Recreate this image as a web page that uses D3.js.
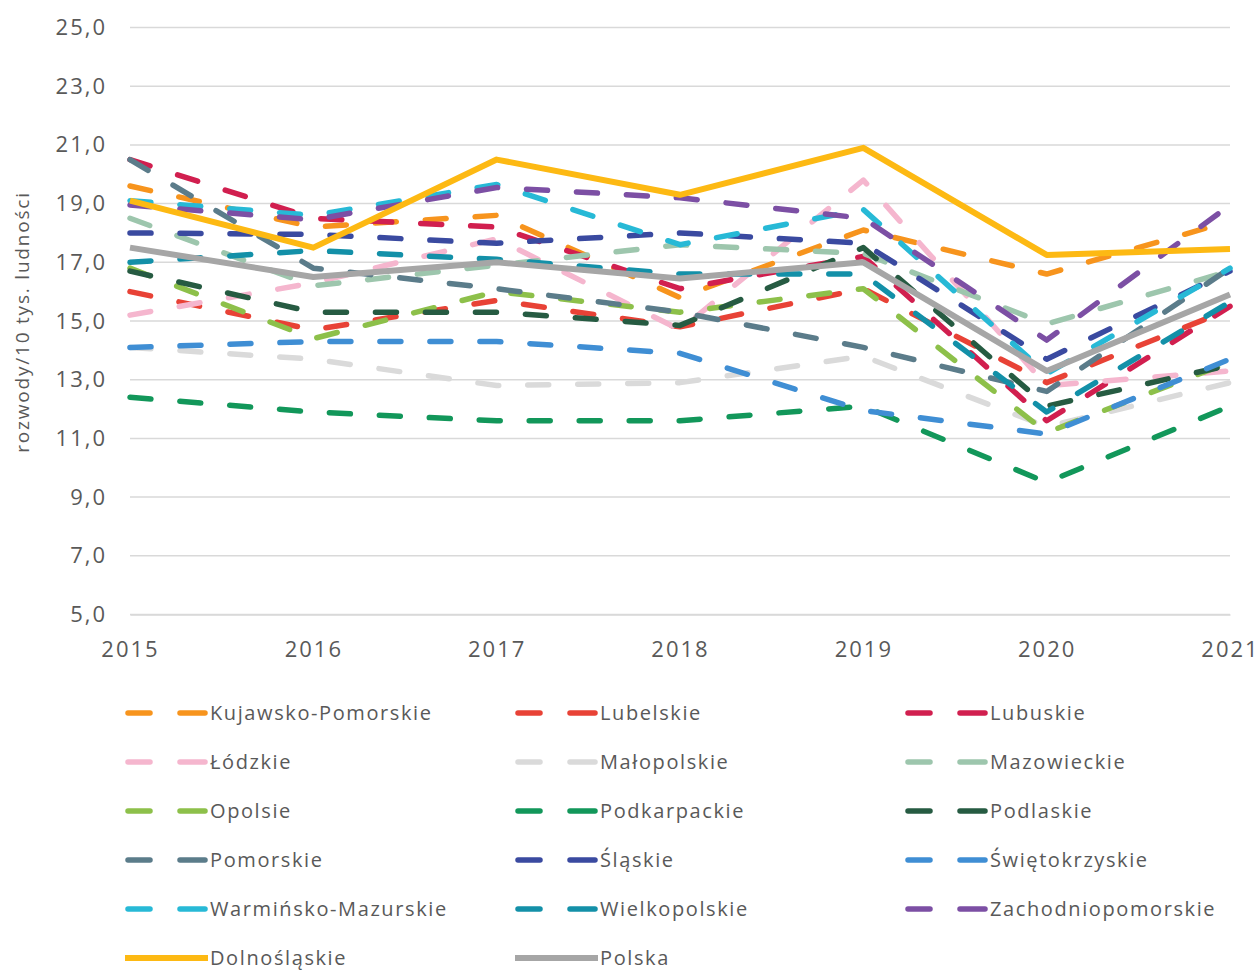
<!DOCTYPE html>
<html>
<head>
<meta charset="utf-8">
<script src="https://cdn.jsdelivr.net/npm/d3@7"></script>
<style>
	body { margin: 0; background: #fff; }
	svg { display: block; }
</style>
</head>
<body>
<svg width="1259" height="970"></svg>
<script>
var years = [2015, 2016, 2017, 2018, 2019, 2020, 2021];
var yTicks = [5, 7, 9, 11, 13, 15, 17, 19, 21, 23, 25];

var kujawskoPomorskie  = [19.6, 18.2, 18.6, 15.8, 18.1, 16.6, 18.4];
var lubelskie          = [16.0, 14.7, 15.7, 14.8, 16.1, 12.9, 15.4];
var lubuskie           = [20.5, 18.5, 18.2, 16.1, 17.2, 11.6, 15.5];
var lodzkie            = [15.2, 16.3, 17.8, 14.7, 19.8, 12.8, 13.3];
var malopolskie        = [14.1, 13.7, 12.8, 12.9, 13.8, 11.4, 12.9];
var mazowieckie        = [18.5, 16.2, 16.9, 17.6, 17.3, 14.9, 16.7];
var opolsie            = [16.8, 14.4, 16.0, 15.3, 16.1, 11.2, 13.6];
var podkarpackie       = [12.4, 11.9, 11.6, 11.6, 12.1, 9.5, 12.1];
var podlaskie          = [16.7, 15.3, 15.3, 14.85, 17.5, 12.1, 13.5];
var pomorskie          = [20.5, 16.8, 16.1, 15.3, 14.1, 12.6, 16.8];
var slaskie            = [18.0, 17.95, 17.65, 18.0, 17.65, 13.7, 16.7];
var swietokrzyskie     = [14.1, 14.3, 14.3, 13.9, 11.95, 11.15, 13.7];
var warminskoMazurskie = [19.1, 18.6, 19.65, 17.6, 18.8, 13.2, 16.8];
var wielkopolskie      = [17.0, 17.4, 17.1, 16.6, 16.6, 11.9, 15.65];
var zachodniopomorskie = [18.95, 18.45, 19.55, 19.2, 18.5, 14.35, 18.95];
var dolnoslaskie       = [19.1, 17.5, 20.5, 19.3, 20.9, 17.25, 17.45];
var polska             = [17.5, 16.5, 17.0, 16.45, 17.0, 13.3, 15.9];

var series = [
	{ name: 'Kujawsko-Pomorskie', values: kujawskoPomorskie, color: '#f7941d', dashed: true },
	{ name: 'Lubelskie', values: lubelskie, color: '#e84236', dashed: true },
	{ name: 'Lubuskie', values: lubuskie, color: '#d11f4f', dashed: true },
	{ name: 'Łódzkie', values: lodzkie, color: '#f5b6ce', dashed: true },
	{ name: 'Małopolskie', values: malopolskie, color: '#dadada', dashed: true },
	{ name: 'Mazowieckie', values: mazowieckie, color: '#9dc6ad', dashed: true },
	{ name: 'Opolsie', values: opolsie, color: '#8dc04a', dashed: true },
	{ name: 'Podkarpackie', values: podkarpackie, color: '#12975a', dashed: true },
	{ name: 'Podlaskie', values: podlaskie, color: '#265b42', dashed: true },
	{ name: 'Pomorskie', values: pomorskie, color: '#5b7c8a', dashed: true },
	{ name: 'Śląskie', values: slaskie, color: '#3a4aa0', dashed: true },
	{ name: 'Świętokrzyskie', values: swietokrzyskie, color: '#3f8ed4', dashed: true },
	{ name: 'Warmińsko-Mazurskie', values: warminskoMazurskie, color: '#27b9d6', dashed: true },
	{ name: 'Wielkopolskie', values: wielkopolskie, color: '#1390a8', dashed: true },
	{ name: 'Zachodniopomorskie', values: zachodniopomorskie, color: '#7c4fa4', dashed: true },
	{ name: 'Dolnośląskie', values: dolnoslaskie, color: '#fdb913', dashed: false },
	{ name: 'Polska', values: polska, color: '#a6a6a6', dashed: false }
];

var font = "'Open Sans', sans-serif";
var text_color = '#595959';
var dash = '21,29';

var svg = d3.select('svg');

var x = d3.scalePoint().domain(years).range([130, 1230]);
var y = d3.scaleLinear().domain([5, 25]).range([614.5, 27.5]);

// Grid
svg.append('g')
	.selectAll('line')
	.data(yTicks)
	.enter().append('line')
	.attr('x1', 130)
	.attr('x2', 1230)
	.attr('y1', d => y(d))
	.attr('y2', d => y(d))
	.attr('stroke', '#d9d9d9')
	.attr('stroke-width', 1.5);

// Y axis labels
var yAxis = svg.append('g')
	.attr('transform', 'translate(110,0)')
	.call(d3.axisLeft(y).tickValues(yTicks).tickSize(0).tickFormat(d => d3.format('.1f')(d).replace('.', ',')));
yAxis.select('.domain').remove();
yAxis.selectAll('text')
	.attr('font-family', font)
	.attr('font-size', 22)
	.attr('letter-spacing', 2)
	.attr('fill', text_color);

// X axis labels
var xAxis = svg.append('g')
	.attr('transform', 'translate(0,' + y(5) + ')')
	.call(d3.axisBottom(x).tickSize(0).tickPadding(27));
xAxis.select('.domain').attr('stroke', '#d9d9d9').attr('stroke-width', 1.5);
xAxis.selectAll('text')
	.attr('font-family', font)
	.attr('font-size', 22)
	.attr('letter-spacing', 2)
	.attr('fill', text_color);

svg.append('text')
	.attr('transform', 'translate(29,' + 322 + ') rotate(-90)')
	.attr('text-anchor', 'middle')
	.attr('font-family', font)
	.attr('font-size', 19)
	.attr('letter-spacing', 1.8)
	.attr('fill', text_color)
	.text('rozwody/10 tys. ludności');

// Lines
var line = d3.line()
	.x((d, i) => x(years[i]))
	.y(d => y(d));

svg.append('g')
	.selectAll('path')
	.data(series)
	.enter().append('path')
	.attr('d', d => line(d.values))
	.attr('fill', 'none')
	.attr('stroke', d => d.color)
	.attr('stroke-width', d => d.dashed ? 5.5 : 6)
	.attr('stroke-linecap', d => d.dashed ? 'round' : 'butt')
	.attr('stroke-linejoin', 'round')
	.attr('stroke-dasharray', d => d.dashed ? dash : null);

// Legend
var legend = svg.append('g')
	.selectAll('g')
	.data(series)
	.enter().append('g')
	.attr('transform', (d, i) => 'translate(' + [128, 518, 908][i % 3] + ',' + (713 + 49 * Math.floor(i / 3)) + ')');
legend.filter(d => d.dashed).append('line')
	.attr('x1', 0).attr('x2', 22)
	.attr('stroke', d => d.color).attr('stroke-width', 5.5).attr('stroke-linecap', 'round');
legend.filter(d => d.dashed).append('line')
	.attr('x1', 52).attr('x2', 77)
	.attr('stroke', d => d.color).attr('stroke-width', 5.5).attr('stroke-linecap', 'round');
legend.filter(d => !d.dashed).append('line')
	.attr('x1', -3).attr('x2', 80)
	.attr('stroke', d => d.color).attr('stroke-width', 6);
legend.append('text')
	.attr('x', 82)
	.attr('dy', '0.35em')
	.attr('font-family', font)
	.attr('font-size', 20)
	.attr('letter-spacing', 1.6)
	.attr('fill', text_color)
	.text(d => d.name);
</script>
</body>
</html>
